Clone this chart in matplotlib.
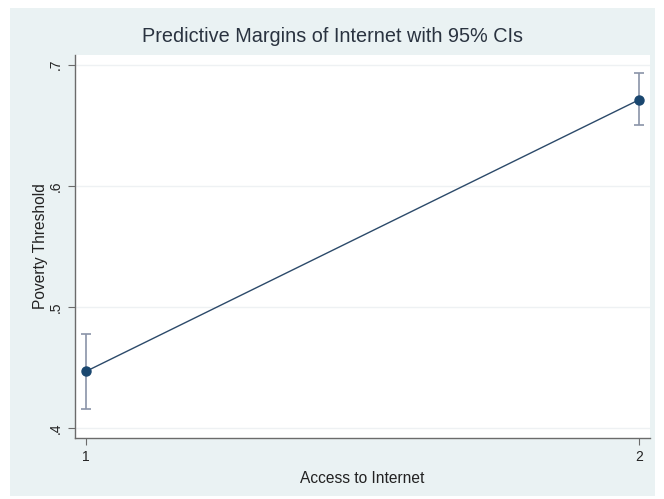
import matplotlib
matplotlib.use("Agg")
import matplotlib.pyplot as plt
from matplotlib.patches import Rectangle

categories = [1, 2]
margins = [0.447, 0.671]
ci_low = [0.416, 0.650]
ci_high = [0.478, 0.693]
yticks = [0.4, 0.5, 0.6, 0.7]
ytick_labels = [".4", ".5", ".6", ".7"]

plt.rcParams['font.family'] = ['Liberation Sans', 'DejaVu Sans']

fig = plt.figure(figsize=(6.64, 4.99), dpi=100)
fig.patch.set_facecolor('white')
fig.patches.append(Rectangle((10/664, 3/499), 645/664, 488/499, transform=fig.transFigure,
                             facecolor='#eaf2f3', edgecolor='none', zorder=-10))

ax = fig.add_axes([75/664, 61/499, 575/664, 383/499])
ax.set_zorder(1)
ax.set_facecolor('white')

navy = '#1a476f'
err_lo = [m - l for m, l in zip(margins, ci_low)]
err_hi = [h - m for m, h in zip(margins, ci_high)]
ax.errorbar(categories, margins, yerr=[err_lo, err_hi], fmt='none', ecolor='#8a94a8',
            elinewidth=1.2, capsize=3.5, capthick=1.2, zorder=2)
ax.plot(categories, margins, color='#2c4a6a', lw=1.0, zorder=3)
ax.plot(categories, margins, 'o', color=navy, ms=6.5, zorder=4)

ax.set_xlim(0.98, 2.02)
ax.set_ylim(0.392, 0.708)
ax.set_xticks(categories)
ax.set_xticklabels([str(c) for c in categories], fontsize=10, color='#222222')
ax.set_yticks(yticks)
ax.set_yticklabels(ytick_labels, rotation=90, va='center', fontsize=10, color='#222222')
ax.yaxis.grid(True, color='#eef1f3', lw=1.0)
ax.set_axisbelow(True)

for s in ['top', 'right']:
    ax.spines[s].set_visible(False)
for s in ['left', 'bottom']:
    ax.spines[s].set_color('#6b6b6b')
    ax.spines[s].set_linewidth(1.0)
ax.tick_params(colors='#6b6b6b', length=5, width=0.8, labelcolor='#222222')

ax.set_xlabel('Access to Internet', fontsize=11.2, color='#222222', labelpad=5)
ax.set_ylabel('Poverty Threshold', fontsize=11.2, color='#222222', labelpad=1)
fig.text(0.5, 1 - 37/499, 'Predictive Margins of Internet with 95% CIs', ha='center', va='center',
         fontsize=14.3, color='#2a3340')

fig.savefig('out.png', dpi=100)
